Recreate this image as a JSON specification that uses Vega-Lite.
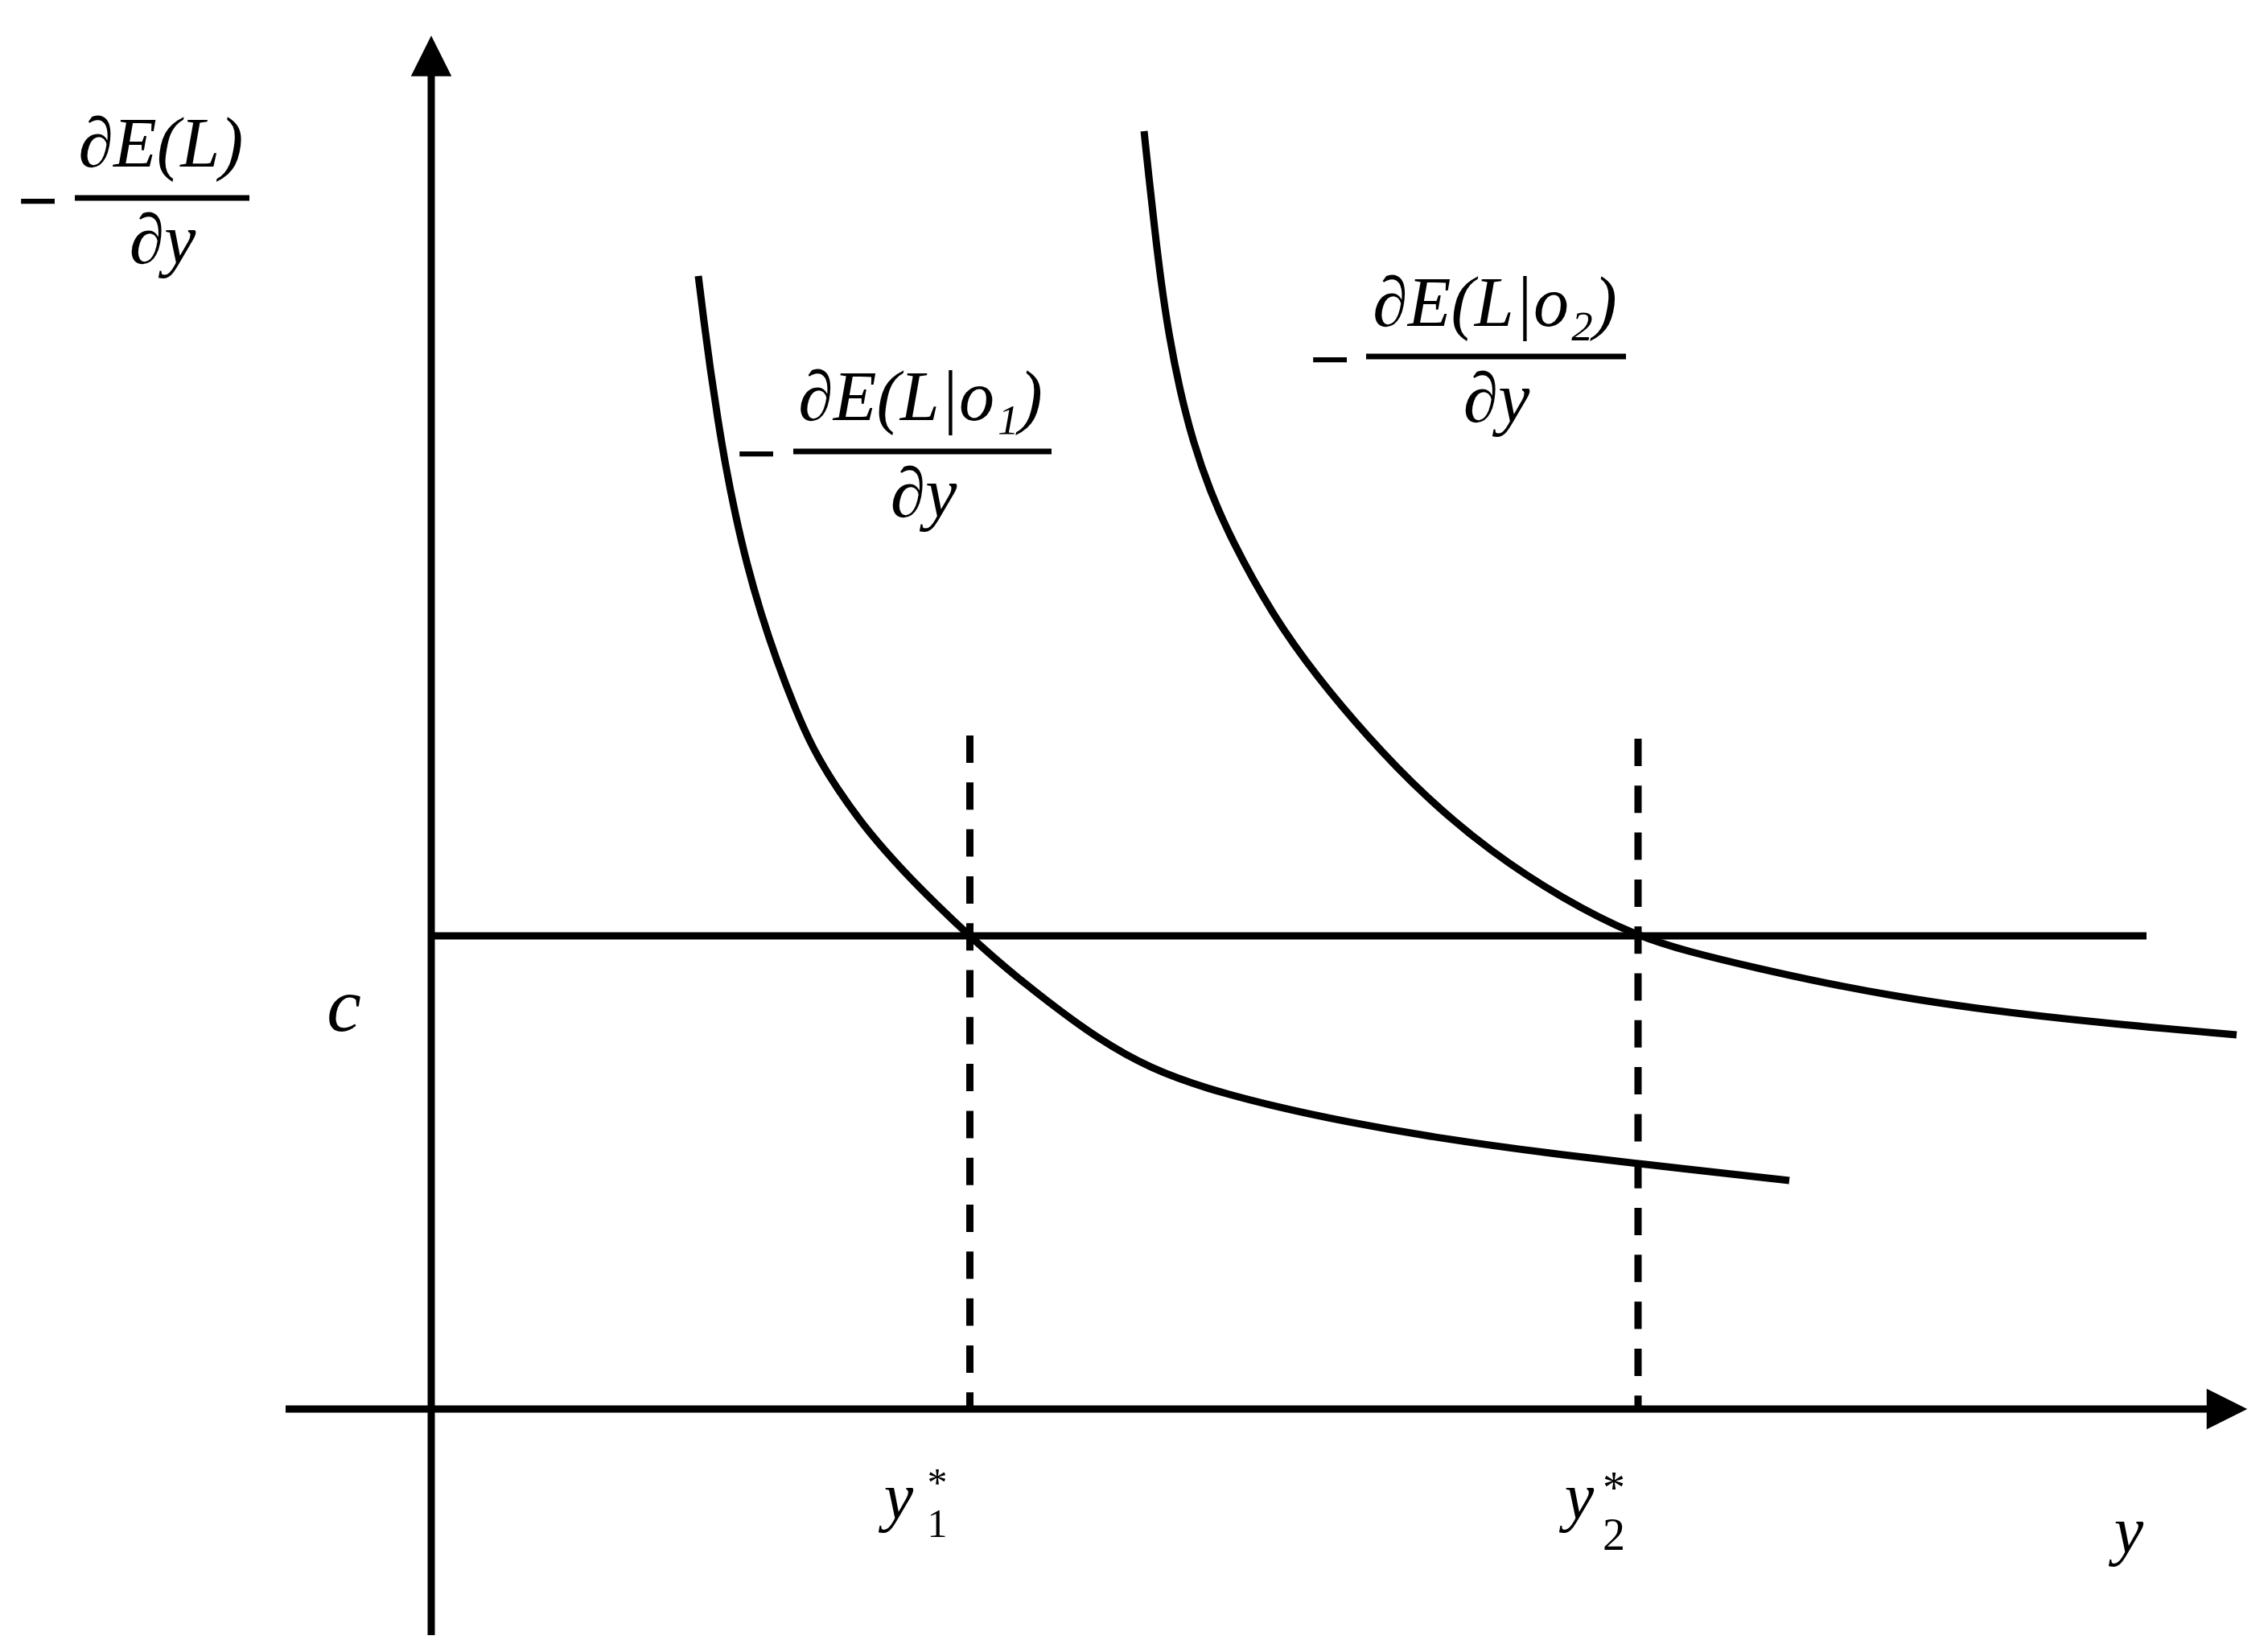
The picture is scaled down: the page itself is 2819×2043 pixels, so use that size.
{
  "$schema": "https://vega.github.io/schema/vega-lite/v6.json",
  "width": 2819,
  "height": 2043,
  "autosize": {"type": "none"},
  "padding": 0,
  "background": "white",
  "config": {"view": {"stroke": null}},
  "datasets": {
    "axes": [
      {"axis": "vertical", "x": 0, "y": -2.81, "x2": 0, "y2": 16.6},
      {"axis": "horizontal", "x": -1.81, "y": 0, "x2": 22.1, "y2": 0}
    ],
    "arrows": [
      {"axis": "vertical", "x": 0, "y": 16.815},
      {"axis": "horizontal", "x": 22.32, "y": 0}
    ],
    "cline": [{"name": "c", "x": 0.04, "x2": 21.32, "y": 5.88}],
    "dashed": [
      {"name": "y1*", "x": 6.695, "y": 8.37, "y2": 0},
      {"name": "y2*", "x": 15.0, "y": 8.33, "y2": 0}
    ],
    "curves": [
      {"curve": "o1", "i": 1, "x": 3.32, "y": 14.08},
      {"curve": "o1", "i": 2, "x": 3.39, "y": 13.51},
      {"curve": "o1", "i": 3, "x": 3.47, "y": 12.91},
      {"curve": "o1", "i": 4, "x": 3.56, "y": 12.31},
      {"curve": "o1", "i": 5, "x": 3.66, "y": 11.71},
      {"curve": "o1", "i": 6, "x": 3.78, "y": 11.11},
      {"curve": "o1", "i": 7, "x": 3.92, "y": 10.51},
      {"curve": "o1", "i": 8, "x": 4.09, "y": 9.91},
      {"curve": "o1", "i": 9, "x": 4.29, "y": 9.31},
      {"curve": "o1", "i": 10, "x": 4.52, "y": 8.71},
      {"curve": "o1", "i": 11, "x": 4.74, "y": 8.21},
      {"curve": "o1", "i": 12, "x": 5.04, "y": 7.71},
      {"curve": "o1", "i": 13, "x": 5.44, "y": 7.16},
      {"curve": "o1", "i": 14, "x": 5.89, "y": 6.66},
      {"curve": "o1", "i": 15, "x": 6.29, "y": 6.26},
      {"curve": "o1", "i": 16, "x": 6.69, "y": 5.88},
      {"curve": "o1", "i": 17, "x": 7.14, "y": 5.48},
      {"curve": "o1", "i": 18, "x": 7.64, "y": 5.08},
      {"curve": "o1", "i": 19, "x": 8.30, "y": 4.59},
      {"curve": "o1", "i": 20, "x": 8.94, "y": 4.23},
      {"curve": "o1", "i": 21, "x": 9.64, "y": 3.98},
      {"curve": "o1", "i": 22, "x": 10.44, "y": 3.77},
      {"curve": "o1", "i": 23, "x": 11.36, "y": 3.57},
      {"curve": "o1", "i": 24, "x": 12.62, "y": 3.35},
      {"curve": "o1", "i": 25, "x": 13.88, "y": 3.18},
      {"curve": "o1", "i": 26, "x": 14.99, "y": 3.05},
      {"curve": "o1", "i": 27, "x": 16.88, "y": 2.84},
      {"curve": "o2", "i": 1, "x": 8.86, "y": 15.88},
      {"curve": "o2", "i": 2, "x": 8.92, "y": 15.31},
      {"curve": "o2", "i": 3, "x": 8.99, "y": 14.68},
      {"curve": "o2", "i": 4, "x": 9.07, "y": 14.01},
      {"curve": "o2", "i": 5, "x": 9.17, "y": 13.34},
      {"curve": "o2", "i": 6, "x": 9.30, "y": 12.68},
      {"curve": "o2", "i": 7, "x": 9.47, "y": 12.01},
      {"curve": "o2", "i": 8, "x": 9.68, "y": 11.41},
      {"curve": "o2", "i": 9, "x": 9.94, "y": 10.81},
      {"curve": "o2", "i": 10, "x": 10.46, "y": 9.86},
      {"curve": "o2", "i": 11, "x": 11.00, "y": 9.11},
      {"curve": "o2", "i": 12, "x": 11.63, "y": 8.36},
      {"curve": "o2", "i": 13, "x": 12.35, "y": 7.61},
      {"curve": "o2", "i": 14, "x": 13.16, "y": 6.93},
      {"curve": "o2", "i": 15, "x": 14.06, "y": 6.34},
      {"curve": "o2", "i": 16, "x": 14.97, "y": 5.88},
      {"curve": "o2", "i": 17, "x": 15.64, "y": 5.68},
      {"curve": "o2", "i": 18, "x": 16.47, "y": 5.48},
      {"curve": "o2", "i": 19, "x": 17.34, "y": 5.29},
      {"curve": "o2", "i": 20, "x": 18.14, "y": 5.14},
      {"curve": "o2", "i": 21, "x": 19.09, "y": 4.99},
      {"curve": "o2", "i": 22, "x": 20.71, "y": 4.80},
      {"curve": "o2", "i": 23, "x": 22.44, "y": 4.65}
    ],
    "fracbars": [
      {"label": "E(L)", "x": -4.43, "x2": -2.26, "y": 15.05},
      {"label": "E(L|o1)", "x": 4.50, "x2": 7.71, "y": 11.90},
      {"label": "E(L|o2)", "x": 11.62, "x2": 14.85, "y": 13.08}
    ],
    "fractext": [
      {"text": "∂E(L)", "x": -3.36, "y": 15.44},
      {"text": "∂y", "x": -3.34, "y": 14.24},
      {"text": "∂E(L|o₁)", "x": 6.08, "y": 12.29},
      {"text": "∂y", "x": 6.12, "y": 11.09},
      {"text": "∂E(L|o₂)", "x": 13.22, "y": 13.46},
      {"text": "∂y", "x": 13.24, "y": 12.27}
    ],
    "minus": [
      {"text": "−", "x": -4.89, "y": 14.98},
      {"text": "−", "x": 4.04, "y": 11.84},
      {"text": "−", "x": 11.17, "y": 13.01}
    ],
    "clabel": [{"text": "c", "x": -1.085, "y": 4.70}],
    "ylabels": [
      {"text": "y", "x": 21.10, "y": -1.78},
      {"text": "y", "x": 5.81, "y": -1.36},
      {"text": "y", "x": 14.27, "y": -1.36}
    ],
    "scripts1": [{"text": "*\n1", "x": 6.29, "y": -1.08}],
    "scripts2": [{"text": "*\n2", "x": 14.70, "y": -1.17}]
  },
  "encoding": {
    "x": {"field": "x", "type": "quantitative", "scale": {"domain": [-5.36, 22.83], "nice": false, "zero": false}, "axis": null},
    "y": {"field": "y", "type": "quantitative", "scale": {"domain": [-2.92, 17.51], "nice": false, "zero": false}, "axis": null}
  },
  "layer": [
    {
      "data": {"name": "axes"},
      "mark": {"type": "rule", "color": "black", "strokeWidth": 9, "strokeCap": "butt"},
      "encoding": {"x2": {"field": "x2"}, "y2": {"field": "y2"}}
    },
    {
      "data": {"name": "arrows"},
      "transform": [{"filter": "datum.axis === 'vertical'"}],
      "mark": {"type": "point", "shape": "M0,-1L-1,1L1,1Z", "size": 2550, "filled": true, "color": "black", "opacity": 1, "strokeWidth": 0}
    },
    {
      "data": {"name": "arrows"},
      "transform": [{"filter": "datum.axis === 'horizontal'"}],
      "mark": {"type": "point", "shape": "M1,0L-1,-1L-1,1Z", "size": 2550, "filled": true, "color": "black", "opacity": 1, "strokeWidth": 0}
    },
    {
      "data": {"name": "cline"},
      "mark": {"type": "rule", "color": "black", "strokeWidth": 9, "strokeCap": "butt"},
      "encoding": {"x2": {"field": "x2"}}
    },
    {
      "data": {"name": "dashed"},
      "mark": {"type": "rule", "color": "black", "strokeWidth": 9, "strokeCap": "butt", "strokeDash": [34, 24.3]},
      "encoding": {"y2": {"field": "y2"}}
    },
    {
      "data": {"name": "curves"},
      "mark": {"type": "line", "color": "black", "strokeWidth": 9, "interpolate": "basis"},
      "encoding": {"detail": {"field": "curve"}, "order": {"field": "i", "type": "quantitative"}}
    },
    {
      "data": {"name": "fracbars"},
      "mark": {"type": "rule", "color": "black", "strokeWidth": 7, "strokeCap": "butt"},
      "encoding": {"x2": {"field": "x2"}}
    },
    {
      "data": {"name": "fractext"},
      "mark": {"type": "text", "font": "Liberation Serif", "fontStyle": "italic", "fontSize": 88, "align": "center", "baseline": "alphabetic", "color": "black"},
      "encoding": {"text": {"field": "text"}}
    },
    {
      "data": {"name": "minus"},
      "mark": {"type": "text", "font": "Liberation Serif", "fontWeight": "bold", "fontSize": 90, "align": "center", "baseline": "middle", "color": "black"},
      "encoding": {"text": {"field": "text"}}
    },
    {
      "data": {"name": "clabel"},
      "mark": {"type": "text", "font": "Liberation Serif", "fontStyle": "italic", "fontSize": 96, "align": "center", "baseline": "alphabetic", "color": "black"},
      "encoding": {"text": {"field": "text"}}
    },
    {
      "data": {"name": "ylabels"},
      "mark": {"type": "text", "font": "Liberation Serif", "fontStyle": "italic", "fontSize": 82, "align": "center", "baseline": "alphabetic", "color": "black"},
      "encoding": {"text": {"field": "text"}}
    },
    {
      "data": {"name": "scripts1"},
      "mark": {"type": "text", "font": "Liberation Serif", "fontSize": 50, "lineBreak": "\n", "lineHeight": 51, "align": "center", "baseline": "alphabetic", "color": "black"},
      "encoding": {"text": {"field": "text"}}
    },
    {
      "data": {"name": "scripts2"},
      "mark": {"type": "text", "font": "Liberation Serif", "fontSize": 56, "lineBreak": "\n", "lineHeight": 58, "align": "center", "baseline": "alphabetic", "color": "black"},
      "encoding": {"text": {"field": "text"}}
    }
  ]
}
